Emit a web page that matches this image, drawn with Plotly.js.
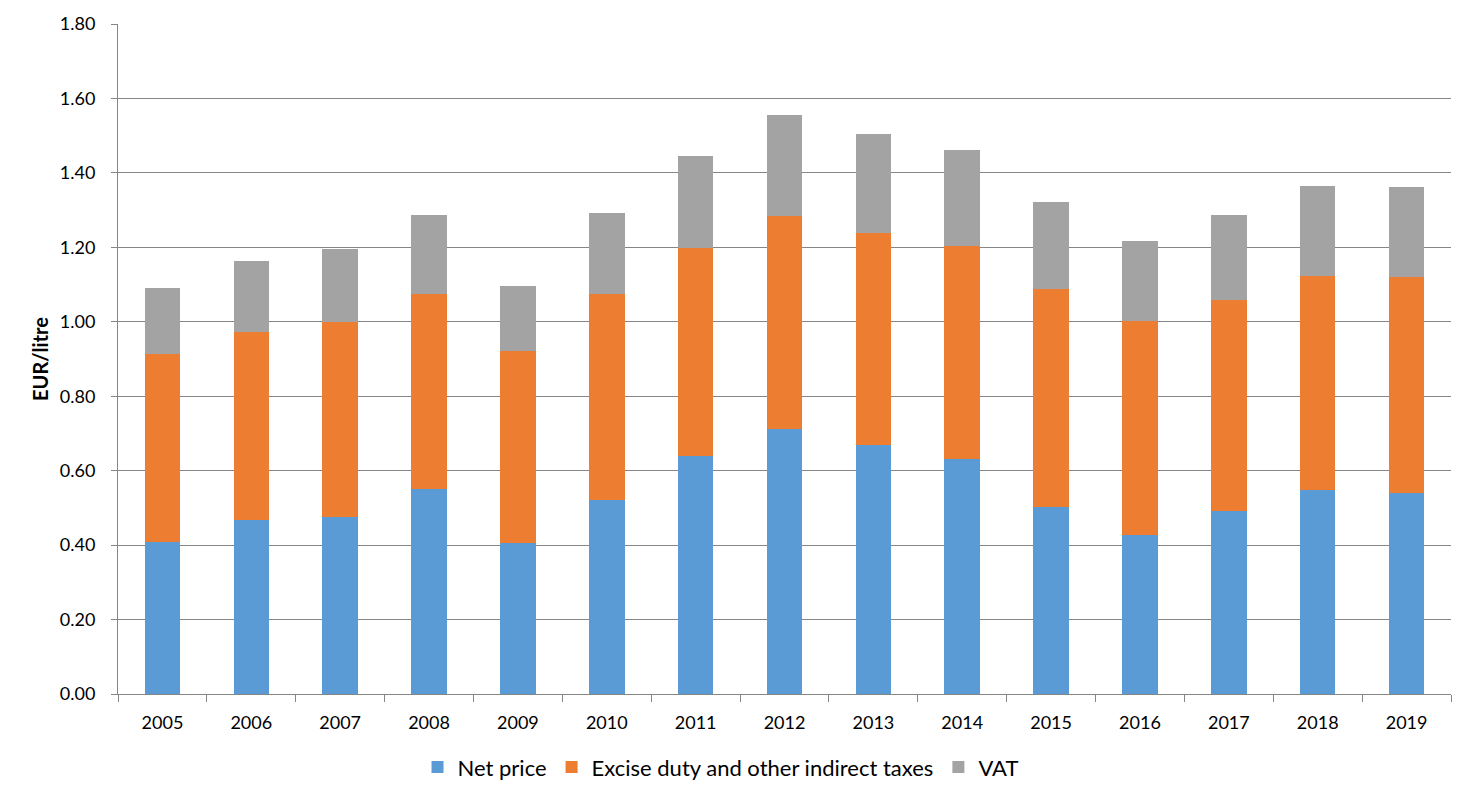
<!DOCTYPE html>
<html>
<head>
<meta charset="utf-8">
<script src="https://cdn.plot.ly/plotly-3.0.1.min.js"></script>
<style>html,body{margin:0;padding:0;background:#fff;}#chart{width:1473px;height:804px;}</style>
</head>
<body>
<div id="chart"></div>
<script>
const years = ["2005","2006","2007","2008","2009","2010","2011","2012","2013","2014","2015","2016","2017","2018","2019"];
const netPrice = [0.408,0.467,0.476,0.551,0.406,0.521,0.639,0.712,0.669,0.631,0.502,0.427,0.492,0.548,0.540];
const exciseTop = [0.913,0.973,0.999,1.075,0.922,1.075,1.198,1.284,1.239,1.204,1.088,1.002,1.059,1.123,1.120];
const totalTop = [1.091,1.163,1.196,1.287,1.096,1.292,1.445,1.556,1.505,1.462,1.322,1.217,1.287,1.365,1.362];
const excise = exciseTop.map((v,i)=>+(v-netPrice[i]).toFixed(3));
const vat = totalTop.map((v,i)=>+(v-exciseTop[i]).toFixed(3));
const yTicks = [0,0.2,0.4,0.6,0.8,1.0,1.2,1.4,1.6,1.8];

const font = "Lato, 'Open Sans', sans-serif";
const data = [
  {type:"bar", name:"Net price", x:years, y:netPrice, marker:{color:"#5B9BD5"}},
  {type:"bar", name:"Excise duty and other indirect taxes", x:years, y:excise, marker:{color:"#ED7D31"}},
  {type:"bar", name:"VAT", x:years, y:vat, marker:{color:"#A3A3A3"}}
];
const layout = {
  width:1473, height:804,
  margin:{l:118, r:22, t:24, b:110, autoexpand:false},
  barmode:"stack", bargap:0.6,
  paper_bgcolor:"#fff", plot_bgcolor:"#fff",
  font:{family:font, size:18, color:"#000"},
  showlegend:true,
  legend:{orientation:"h", x:0.452, xanchor:"center", y:-0.078, yanchor:"top",
          font:{family:font, size:22, color:"#000"}, traceorder:"normal", itemwidth:30},
  xaxis:{type:"category", showgrid:false, showline:true, linecolor:"#868686", linewidth:1,
         ticks:"outside", tickson:"boundaries", ticklen:7, tickcolor:"#868686",
         ticklabelstandoff:12,
         tickfont:{family:font, size:18, color:"#000"}},
  yaxis:{range:[0,1.8], tickvals:yTicks, ticktext:yTicks.map(v=>v.toFixed(2)),
         showgrid:true, gridcolor:"#868686", gridwidth:1, showline:true, linecolor:"#868686",
         ticks:"outside", ticklen:6, tickcolor:"#868686", zeroline:false,
         ticklabelstandoff:12,
         tickfont:{family:font, size:18, color:"#000"},
         title:{text:"<b>EUR/litre</b>", font:{family:font, size:20, color:"#000"}, standoff:5}}
};
Plotly.newPlot("chart", data, layout, {displayModeBar:false, staticPlot:true});
</script>
</body>
</html>
